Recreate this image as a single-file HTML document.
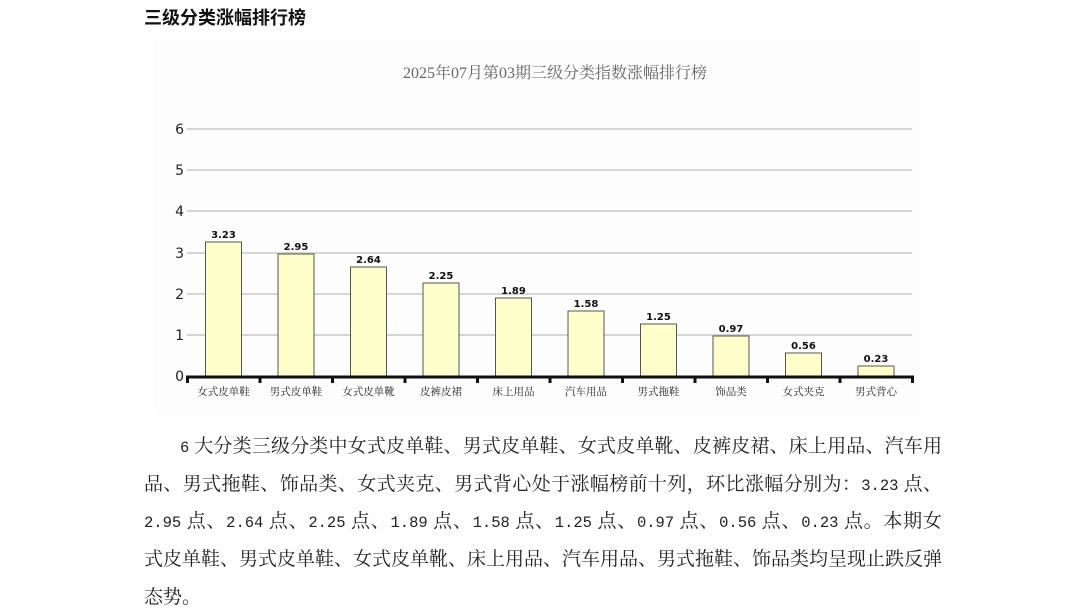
<!DOCTYPE html>
<html><head><meta charset="utf-8"><style>
body{margin:0;width:1082px;height:611px;background:#fff;overflow:hidden;position:relative;font-family:"Liberation Serif","Noto Serif CJK SC",serif}
.t{position:absolute;left:144px;top:4px;font:bold 18px "Liberation Sans","Noto Sans CJK SC",sans-serif;color:#111}
.p{position:absolute;left:144px;width:798px;font-size:19px;color:#222;text-align:justify;text-align-last:justify;white-space:nowrap;height:24px;line-height:24px;overflow:hidden}
.p.l{text-align-last:left}
.p b{font-weight:normal;font-family:"Liberation Mono",monospace;font-size:15.5px}
</style></head><body>
<div class="t">三级分类涨幅排行榜</div>
<svg width="1082" height="420" style="position:absolute;left:0;top:0" font-family="DejaVu Sans,Noto Sans CJK SC,sans-serif">
<rect x="155" y="40" width="765" height="375" fill="#fdfdfd"/>
<text x="555" y="78" text-anchor="middle" font-size="16" fill="#666" font-family="Liberation Serif,Noto Serif CJK SC,serif">2025年07月第03期三级分类指数涨幅排行榜</text>
<g stroke="#c8c8c8" stroke-width="1.5">
<line x1="187" x2="912" y1="129" y2="129"/><line x1="187" x2="912" y1="170" y2="170"/><line x1="187" x2="912" y1="211" y2="211"/><line x1="187" x2="912" y1="253" y2="253"/><line x1="187" x2="912" y1="294" y2="294"/><line x1="187" x2="912" y1="335" y2="335"/>
</g>
<g font-size="14" fill="#222" text-anchor="end">
<text x="184" y="134">6</text><text x="184" y="175">5</text><text x="184" y="216">4</text><text x="184" y="258">3</text><text x="184" y="299">2</text><text x="184" y="340">1</text><text x="184" y="381">0</text>
</g>
<g fill="#ffffcc" stroke="#555" stroke-width="1">
<rect x="205.5" y="242" width="36" height="134"/>
<rect x="278" y="254" width="36" height="122"/>
<rect x="350.5" y="267" width="36" height="109"/>
<rect x="423" y="283" width="36" height="93"/>
<rect x="495.5" y="298" width="36" height="78"/>
<rect x="568" y="311" width="36" height="65"/>
<rect x="640.5" y="324" width="36" height="52"/>
<rect x="713" y="336" width="36" height="40"/>
<rect x="785.5" y="353" width="36" height="23"/>
<rect x="858" y="366" width="36" height="10"/>
</g>
<g font-size="10" font-weight="bold" fill="#111" text-anchor="middle">
<text x="223.5" y="238">3.23</text><text x="296" y="250">2.95</text><text x="368.5" y="263">2.64</text><text x="441" y="279">2.25</text><text x="513.5" y="294">1.89</text><text x="586" y="307">1.58</text><text x="658.5" y="320">1.25</text><text x="731" y="332">0.97</text><text x="803.5" y="349">0.56</text><text x="876" y="362">0.23</text>
</g>
<line x1="186" x2="914" y1="377" y2="377" stroke="#111" stroke-width="3"/>
<g stroke="#111" stroke-width="3">
<line x1="187.5" x2="187.5" y1="376" y2="383"/><line x1="260" x2="260" y1="376" y2="383"/><line x1="332.5" x2="332.5" y1="376" y2="383"/><line x1="405" x2="405" y1="376" y2="383"/><line x1="477.5" x2="477.5" y1="376" y2="383"/><line x1="550" x2="550" y1="376" y2="383"/><line x1="622.5" x2="622.5" y1="376" y2="383"/><line x1="695" x2="695" y1="376" y2="383"/><line x1="767.5" x2="767.5" y1="376" y2="383"/><line x1="840" x2="840" y1="376" y2="383"/><line x1="912.5" x2="912.5" y1="376" y2="383"/>
</g>
<g font-size="10.5" fill="#222" text-anchor="middle" font-family="Liberation Serif,Noto Serif CJK SC,serif">
<text x="223.5" y="395">女式皮单鞋</text><text x="296" y="395">男式皮单鞋</text><text x="368.5" y="395">女式皮单靴</text><text x="441" y="395">皮裤皮裙</text><text x="513.5" y="395">床上用品</text><text x="586" y="395">汽车用品</text><text x="658.5" y="395">男式拖鞋</text><text x="731" y="395">饰品类</text><text x="803.5" y="395">女式夹克</text><text x="876" y="395">男式背心</text>
</g>
</svg>
<div class="p" style="top:435px;left:180px;width:762px"><b>6</b> 大分类三级分类中女式皮单鞋、男式皮单鞋、女式皮单靴、皮裤皮裙、床上用品、汽车用</div>
<div class="p" style="top:473px">品、男式拖鞋、饰品类、女式夹克、男式背心处于涨幅榜前十列，环比涨幅分别为：<b>3.23</b> 点、</div>
<div class="p" style="top:510px"><b>2.95</b> 点、<b>2.64</b> 点、<b>2.25</b> 点、<b>1.89</b> 点、<b>1.58</b> 点、<b>1.25</b> 点、<b>0.97</b> 点、<b>0.56</b> 点、<b>0.23</b> 点。本期女</div>
<div class="p" style="top:548px">式皮单鞋、男式皮单鞋、女式皮单靴、床上用品、汽车用品、男式拖鞋、饰品类均呈现止跌反弹</div>
<div class="p l" style="top:586px">态势。</div>
</body></html>
